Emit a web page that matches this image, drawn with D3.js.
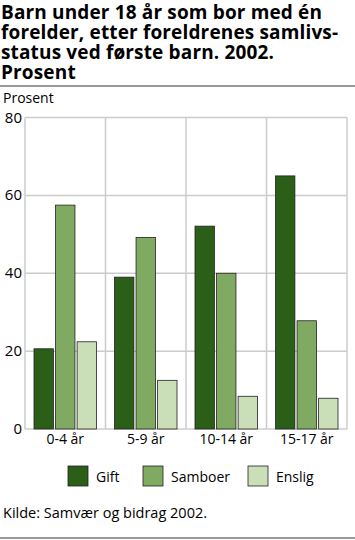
<!DOCTYPE html>
<html>
<head>
<meta charset="utf-8">
<script src="https://cdn.jsdelivr.net/npm/d3@7"></script>
<style>
  body { margin: 0; background: #fff; }
  svg { display: block; font-family: "Open Sans", "DejaVu Sans", sans-serif; }
</style>
</head>
<body>
<div id="chart"></div>
<script>
var titleLines = ["Barn under 18 år som bor med én", "forelder, etter foreldrenes samlivs-", "status ved første barn. 2002.", "Prosent"];
var ageGroups = ["0-4 år", "5-9 år", "10-14 år", "15-17 år"];
var seriesNames = ["Gift", "Samboer", "Enslig"];
var gift = [20.6, 39.0, 52.1, 65.0];
var samboer = [57.5, 49.2, 40.0, 27.8];
var enslig = [22.4, 12.5, 8.4, 7.9];
var yTicks = [0, 20, 40, 60, 80];
var colors = ["#2b5e16", "#80aa62", "#cadfb8"];

function drawChart() {
    var width = 355, height = 540;
    var svg = d3.select("#chart").append("svg")
        .attr("width", width)
        .attr("height", height);

    // title
    svg.append("g").selectAll("text")
        .data(titleLines)
        .enter().append("text")
        .attr("x", 1)
        .attr("y", function (d, i) { return 19 + i * 20; })
        .style("font-weight", "bold")
        .style("font-size", "19px")
        .style("letter-spacing", "0.15px")
        .style("fill", "#000")
        .text(function (d) { return d; });

    svg.append("rect").attr("x", 0).attr("y", 85).attr("width", width).attr("height", 2).style("fill", "#999");
    svg.append("rect").attr("x", 0).attr("y", 537).attr("width", width).attr("height", 2).style("fill", "#999");

    svg.append("text")
        .attr("x", 3).attr("y", 103)
        .style("font-size", "14px")
        .text("Prosent");

    var plotLeft = 25, plotRight = 347, plotTop = 117.5, plotBottom = 429;

    var x = d3.scaleBand().domain(ageGroups).range([plotLeft, plotRight]);
    var inner = d3.scaleBand().domain(seriesNames).range([9, x.bandwidth() - 9]).paddingInner(0.1);
    var y = d3.scaleLinear().domain([0, 80]).range([plotBottom, plotTop]);

    var grid = svg.append("g");
    grid.selectAll("line.h")
        .data(yTicks)
        .enter().append("line")
        .attr("class", "h")
        .attr("x1", plotLeft).attr("x2", plotRight)
        .attr("y1", function (d) { return y(d); })
        .attr("y2", function (d) { return y(d); })
        .style("stroke", "#ccc")
        .style("stroke-width", 1.5);
    grid.selectAll("line.v")
        .data([plotLeft].concat(ageGroups.map(function (d) { return x(d) + x.bandwidth(); })))
        .enter().append("line")
        .attr("class", "v")
        .attr("x1", function (d) { return d; }).attr("x2", function (d) { return d; })
        .attr("y1", plotTop).attr("y2", plotBottom)
        .style("stroke", "#ccc")
        .style("stroke-width", 1.5);

    svg.append("g").selectAll("text")
        .data(yTicks)
        .enter().append("text")
        .attr("x", 22)
        .attr("y", function (d) { return y(d) + 5; })
        .attr("text-anchor", "end")
        .style("font-size", "15px")
        .text(function (d) { return d; });

    var rows = ageGroups.map(function (g, i) {
        return { group: g, values: [gift[i], samboer[i], enslig[i]] };
    });

    var groups = svg.append("g").selectAll("g")
        .data(rows)
        .enter().append("g")
        .attr("transform", function (d) { return "translate(" + x(d.group) + ",0)"; });

    groups.selectAll("rect")
        .data(function (d) { return d.values.map(function (v, j) { return { name: seriesNames[j], v: v, j: j }; }); })
        .enter().append("rect")
        .attr("x", function (d) { return inner(d.name); })
        .attr("width", inner.bandwidth())
        .attr("y", function (d) { return y(d.v); })
        .attr("height", function (d) { return y(0) - y(d.v); })
        .style("fill", function (d) { return colors[d.j]; })
        .style("stroke", "#222")
        .style("stroke-width", 0.8);

    svg.append("g").selectAll("text")
        .data(ageGroups)
        .enter().append("text")
        .attr("x", function (d) { return x(d) + x.bandwidth() / 2; })
        .attr("y", 444)
        .attr("text-anchor", "middle")
        .style("font-size", "14px")
        .text(function (d) { return d; });

    // legend
    var legendX = [68, 143, 248];
    var legend = svg.append("g").selectAll("g")
        .data(seriesNames)
        .enter().append("g")
        .attr("transform", function (d, i) { return "translate(" + legendX[i] + ",466)"; });
    legend.append("rect")
        .attr("width", 20).attr("height", 20)
        .style("fill", function (d, i) { return colors[i]; })
        .style("stroke", "#222")
        .style("stroke-width", 0.8);
    legend.append("text")
        .attr("x", 28).attr("y", 16)
        .style("font-size", "14px")
        .text(function (d) { return d; });

    svg.append("text")
        .attr("x", 3).attr("y", 518)
        .style("font-size", "14.5px")
        .text("Kilde: Samvær og bidrag 2002.");
}

drawChart();
</script>
</body>
</html>
